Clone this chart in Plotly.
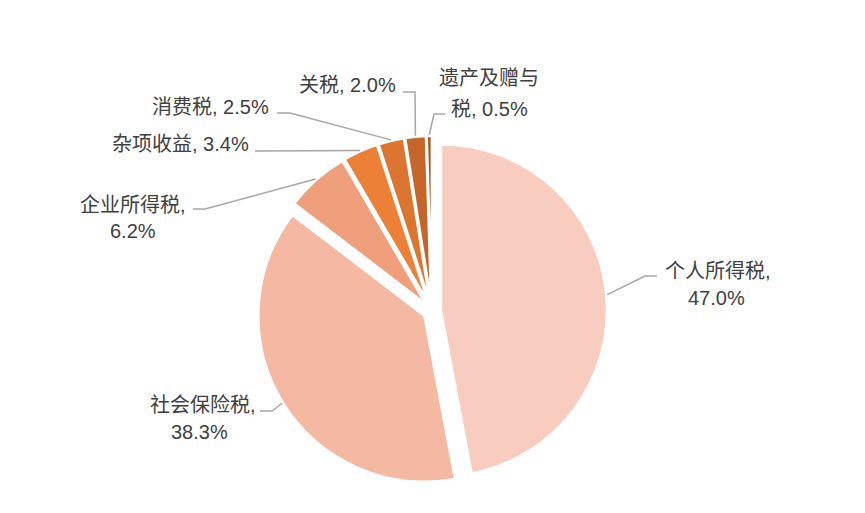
import math
import plotly.graph_objects as go

categories = ["个人所得税", "社会保险税", "企业所得税", "杂项收益", "消费税", "关税", "遗产及赠与税"]
values = [47.0, 38.3, 6.2, 3.4, 2.5, 2.0, 0.5]
value_labels = ["47.0%", "38.3%", "6.2%", "3.4%", "2.5%", "2.0%", "0.5%"]
colors = ["#F8CDBF", "#F4B8A3", "#EF9F7C", "#EC8036", "#DB7530", "#C5652A", "#A9541F"]

W, H = 865, 513
OFF = 8  # page body margin
PULL = 0.054
# pie domain in (screen) pixels
DX0, DX1 = 257, 607
DY0, DY1 = 136, 486


def px(x):
    return (x - OFF) / W


def py(y):
    return 1 - (y - OFF) / H


fig = go.Figure(go.Pie(
    labels=categories, values=values, sort=False, direction="clockwise", rotation=0,
    marker=dict(colors=colors, line=dict(color="white", width=2.5)),
    pull=[PULL] * len(values), textinfo="none", hoverinfo="label+percent",
    domain=dict(x=[px(DX0), px(DX1)], y=[py(DY1), py(DY0)]),
    showlegend=False,
))

cx = (DX0 + DX1) / 2
cy = (DY0 + DY1) / 2
r = min(DX1 - DX0, DY1 - DY0) / (2 + 2 * PULL)
R = r * (1 + PULL) + 1

total = sum(values)
cum = 0
anchors = []
for v in values:
    mid = (cum + v / 2) / total * 2 * math.pi
    anchors.append((cx + R * math.sin(mid), cy - R * math.cos(mid)))
    cum += v

# leader line elbow/end points (layout, screen pixels)
leaders = [
    [(645, 276), (657, 276)],
    [(272, 411), (260, 411)],
    [(205, 209), (193, 209)],
    [(255, 151)],
    [(290, 113), (277, 113)],
    [(415, 92), (403, 92)],
    [(434, 114), (445, 114)],
]

for (ax, ay), pts in zip(anchors, leaders):
    path = f"M {px(ax)},{py(ay)}"
    for (x, y) in pts:
        path += f" L {px(x)},{py(y)}"
    fig.add_shape(type="path", path=path, xref="paper", yref="paper",
                  line=dict(color="#A6A6A6", width=1.5))

FONT = dict(family="Liberation Sans, Arial, Noto Sans CJK SC", size=20, color="#404040")

# (text, x, y, xanchor)
label_lines = [
    (categories[0] + ",", 663, 271, "left"),
    (value_labels[0], 716, 298, "center"),
    (categories[1] + ",", 258, 405, "right"),
    (value_labels[1], 199, 432, "center"),
    (categories[2] + ",", 188, 205, "right"),
    (value_labels[2], 133, 231, "center"),
    (categories[3] + ", " + value_labels[3], 251, 144, "right"),
    (categories[4] + ", " + value_labels[4], 271, 107, "right"),
    (categories[5] + ", " + value_labels[5], 398, 85, "right"),
    (categories[6][:5], 489, 78, "center"),
    (categories[6][5:] + ", " + value_labels[6], 489, 109, "center"),
]
for text, x, y, xa in label_lines:
    fig.add_annotation(text=text, x=px(x), y=py(y), xref="paper", yref="paper",
                       xanchor=xa, yanchor="middle", showarrow=False, font=FONT)

fig.update_layout(width=W, height=H, margin=dict(l=0, r=0, t=0, b=0),
                  paper_bgcolor="white", plot_bgcolor="white")
fig.write_html("out.html")
